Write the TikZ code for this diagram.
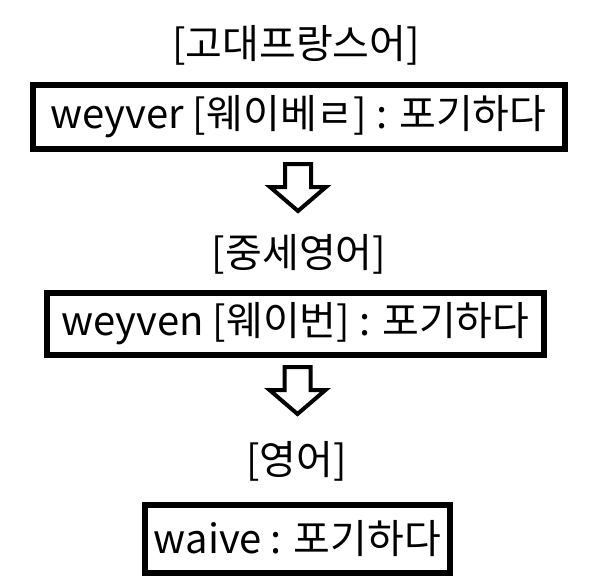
\documentclass[tikz,border=0pt]{standalone}
\usepackage{fontspec}
\setmainfont{Noto Sans CJK KR}
\tikzset{
  every node/.style={inner sep=0pt},
  langtitle/.style={font=\fontsize{40}{48}\selectfont},
  wordbox/.style={draw, line width=6pt, font=\fontsize{40}{48}\selectfont},
  blockarrow/.style={line width=4pt, line join=miter}
}
% hollow arrow pointing down, #1 = middle of its top edge
\newcommand\blockdown[1]{%
  \draw[blockarrow] (#1) ++(-13,0) -- ++(26,0) -- ++(0,23) -- ++(15,0)
    -- ++(-28,24) -- ++(-28,-24) -- ++(15,0) -- cycle;}
\begin{document}
\begin{tikzpicture}[x=1pt,y=-1pt]
\useasboundingbox (0,0) rectangle (614,587);
  \node[langtitle] (oldfr) at (296,45) {[고대프랑스어]};
  \node[wordbox, minimum width=532pt, minimum height=64pt] (weyver) at (298.5,116.5) {weyver [웨이베ㄹ] : 포기하다};
  \coordinate (a1) at (298,164);
  \blockdown{a1}
  \node[langtitle] (mideng) at (299,254) {[중세영어]};
  \node[wordbox, minimum width=497pt, minimum height=62pt] (weyven) at (295.5,324) {weyven [웨이번] : 포기하다};
  \coordinate (a2) at (297.5,367);
  \blockdown{a2}
  \node[langtitle] (eng) at (296.5,461) {[영어]};
  \node[wordbox, minimum width=305pt, minimum height=68.5pt] (waive) at (297.5,538.75) {waive : 포기하다};
\end{tikzpicture}
\end{document}
